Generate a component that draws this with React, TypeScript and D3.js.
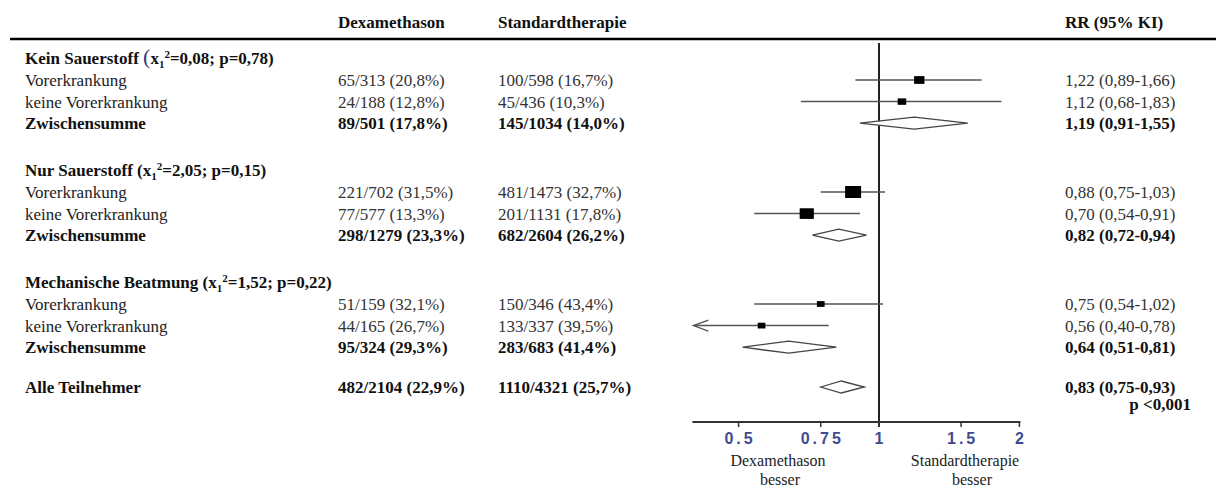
import React from "react";
import * as d3 from "d3";

// ---------- data ----------
const groupNames = ["Kein Sauerstoff", "Nur Sauerstoff", "Mechanische Beatmung"];
const groupChi2 = ["0,08", "2,05", "1,52"];
const groupP = ["0,78", "0,15", "0,22"];
const rowLabels = ["Vorerkrankung", "keine Vorerkrankung", "Zwischensumme"];

const dexEvents = [65, 24, 89, 221, 77, 298, 51, 44, 95];
const dexTotal = [313, 188, 501, 702, 577, 1279, 159, 165, 324];
const dexPct = ["20,8", "12,8", "17,8", "31,5", "13,3", "23,3", "32,1", "26,7", "29,3"];

const stdEvents = [100, 45, 145, 481, 201, 682, 150, 133, 283];
const stdTotal = [598, 436, 1034, 1473, 1131, 2604, 346, 337, 683];
const stdPct = ["16,7", "10,3", "14,0", "32,7", "17,8", "26,2", "43,4", "39,5", "41,4"];

const rr = [1.22, 1.12, 1.19, 0.88, 0.7, 0.82, 0.75, 0.56, 0.64];
const rrLo = [0.89, 0.68, 0.91, 0.75, 0.54, 0.72, 0.54, 0.4, 0.51];
const rrHi = [1.66, 1.83, 1.55, 1.03, 0.91, 0.94, 1.02, 0.78, 0.81];

const overallLabel = "Alle Teilnehmer";
const overallDex = { events: 482, total: 2104, pct: "22,9" };
const overallStd = { events: 1110, total: 4321, pct: "25,7" };
const overallRR = { rr: 0.83, lo: 0.75, hi: 0.93 };
const overallP = "p <0,001";

const axisTicks = [0.5, 0.75, 1, 1.5, 2];
const axisDomain = [0.4, 2];
const favourLeft = ["Dexamethason", "besser"];
const favourRight = ["Standardtherapie", "besser"];
const headers = ["Dexamethason", "Standardtherapie", "RR (95% KI)"];

// ---------- layout ----------
const W = 1216;
const H = 490;
const SERIF = "'Liberation Serif', 'Times New Roman', Times, serif";
const FS = 17;
const colLabel = 25;
const colDex = 338;
const colStd = 498;
const colRR = 1065;
const groupTextBase = [80, 192, 304];
const rowStep = 21.6;
const overallY = 387;
const axisY = 422;
const refTop = 43;

const fmt = (v: number) => d3.format(".2f")(v).replace(".", ",");
const frac = (e: number, t: number, p: string) => `${e}/${t} (${p}%)`;

export default function App() {
  const x = d3.scaleLog().domain(axisDomain).range([693.4, 1019.4]);
  const sizeScale = d3
    .scaleSqrt()
    .domain([0, d3.max(dexTotal.map((d, i) => d + stdTotal[i]).filter((_, i) => i % 3 !== 2)) as number])
    .range([0, 16]);

  const rows: React.ReactNode[] = [];
  const marks: React.ReactNode[] = [];

  const diamond = (lo: number, mid: number, hi: number, y: number, key: string) => {
    const h = 6;
    const p = d3.path();
    p.moveTo(x(lo), y);
    p.lineTo(x(mid), y - h);
    p.lineTo(x(hi), y);
    p.lineTo(x(mid), y + h);
    p.closePath();
    return <path key={key} d={p.toString()} fill="#fff" stroke="#444" strokeWidth={1.3} />;
  };

  groupNames.forEach((g, gi) => {
    const base = groupTextBase[gi];
    const hy = base - 22 + 6;
    rows.push(
      <text key={`gh${gi}`} x={colLabel} y={hy} fontWeight="bold" fontSize={FS} fill="#111">
        <tspan>{g} </tspan>
        {gi === 0 ? (
          <tspan fontWeight="normal" fontSize={22} fill="#2c3a82">(</tspan>
        ) : (
          <tspan>(</tspan>
        )}
        <tspan>x</tspan>
        <tspan fontSize={11} dy={4}>1</tspan>
        <tspan fontSize={11} dy={-10}>2</tspan>
        <tspan dy={6}>{`=${groupChi2[gi]}; p=${groupP[gi]})`}</tspan>
      </text>
    );
    rowLabels.forEach((lab, ri) => {
      const i = gi * 3 + ri;
      const my = base + ri * rowStep;
      const ty = my + 6;
      const bold = ri === 2;
      const fill = bold ? "#111" : "#333";
      const fw = bold ? "bold" : "normal";
      rows.push(
        <g key={`r${i}`} fontSize={FS} fontWeight={fw}>
          <text x={colLabel} y={ty} fill={bold ? "#111" : "#222"}>{lab}</text>
          <text x={colDex} y={ty} fill={fill}>{frac(dexEvents[i], dexTotal[i], dexPct[i])}</text>
          <text x={colStd} y={ty} fill={fill}>{frac(stdEvents[i], stdTotal[i], stdPct[i])}</text>
          <text x={colRR} y={ty} fill={fill}>{`${fmt(rr[i])} (${fmt(rrLo[i])}-${fmt(rrHi[i])})`}</text>
        </g>
      );
      if (bold) {
        marks.push(diamond(rrLo[i], rr[i], rrHi[i], my, `d${i}`));
      } else {
        const loC = Math.max(rrLo[i], axisDomain[0]);
        const x0 = x(loC);
        const x1 = x(rrHi[i]);
        const s = sizeScale(dexTotal[i] + stdTotal[i]);
        const hgt = s * 0.75;
        marks.push(
          <g key={`m${i}`}>
            <line x1={x0} x2={x1} y1={my} y2={my} stroke="#555" strokeWidth={1.5} />
            {rrLo[i] <= axisDomain[0] && (
              <path
                d={`M${x0 + 15},${my - 5.5} L${x0},${my} L${x0 + 15},${my + 5.5}`}
                fill="none"
                stroke="#555"
                strokeWidth={1.3}
              />
            )}
            <rect x={x(rr[i]) - s / 2} y={my - hgt / 2} width={s} height={hgt} fill="#000" />
          </g>
        );
      }
    });
  });

  // overall
  rows.push(
    <g key="overall" fontSize={FS} fontWeight="bold" fill="#111">
      <text x={colLabel} y={overallY + 6}>{overallLabel}</text>
      <text x={colDex} y={overallY + 6}>{frac(overallDex.events, overallDex.total, overallDex.pct)}</text>
      <text x={colStd} y={overallY + 6}>{frac(overallStd.events, overallStd.total, overallStd.pct)}</text>
      <text x={colRR} y={overallY + 6}>{`${fmt(overallRR.rr)} (${fmt(overallRR.lo)}-${fmt(overallRR.hi)})`}</text>
      <text x={1191} y={overallY + 23} textAnchor="end">{overallP}</text>
    </g>
  );
  marks.push(diamond(overallRR.lo, overallRR.rr, overallRR.hi, overallY, "dall"));

  return (
    <svg
      width={W}
      height={H}
      style={{ position: "absolute", left: 0, top: 0, background: "#fff" }}
      fontFamily={SERIF}
    >
      {/* header */}
      <g fontSize={FS} fontWeight="bold" fill="#111">
        <text x={colDex} y={28}>{headers[0]}</text>
        <text x={colStd} y={28}>{headers[1]}</text>
        <text x={colRR} y={28}>{headers[2]}</text>
      </g>
      <line x1={10} x2={W} y1={39} y2={39} stroke="#000" strokeWidth={2.5} />

      {rows}

      {/* reference line */}
      <line x1={x(1)} x2={x(1)} y1={refTop} y2={axisY + 5} stroke="#222" strokeWidth={2} />
      {marks}

      {/* axis */}
      <line x1={x(axisDomain[0]) - 1} x2={x(axisDomain[1]) + 1} y1={axisY} y2={axisY} stroke="#333" strokeWidth={2} />
      {axisTicks.map((t) => (
        <g key={`t${t}`}>
          <line x1={x(t)} x2={x(t)} y1={axisY} y2={axisY + 5} stroke="#333" strokeWidth={1.5} />
          <text
            x={x(t) + 1.5}
            y={axisY + 22}
            textAnchor="middle"
            fontFamily="'Liberation Sans', Arial, sans-serif"
            fontWeight="bold"
            fontSize={16}
            letterSpacing={3}
            fill="#3f4b90"
          >
            {String(t)}
          </text>
        </g>
      ))}
      <g fontSize={16} fill="#222" textAnchor="middle">
        <text x={778} y={466}>{favourLeft[0]}</text>
        <text x={780} y={485}>{favourLeft[1]}</text>
        <text x={965} y={466}>{favourRight[0]}</text>
        <text x={972} y={485}>{favourRight[1]}</text>
      </g>
    </svg>
  );
}
